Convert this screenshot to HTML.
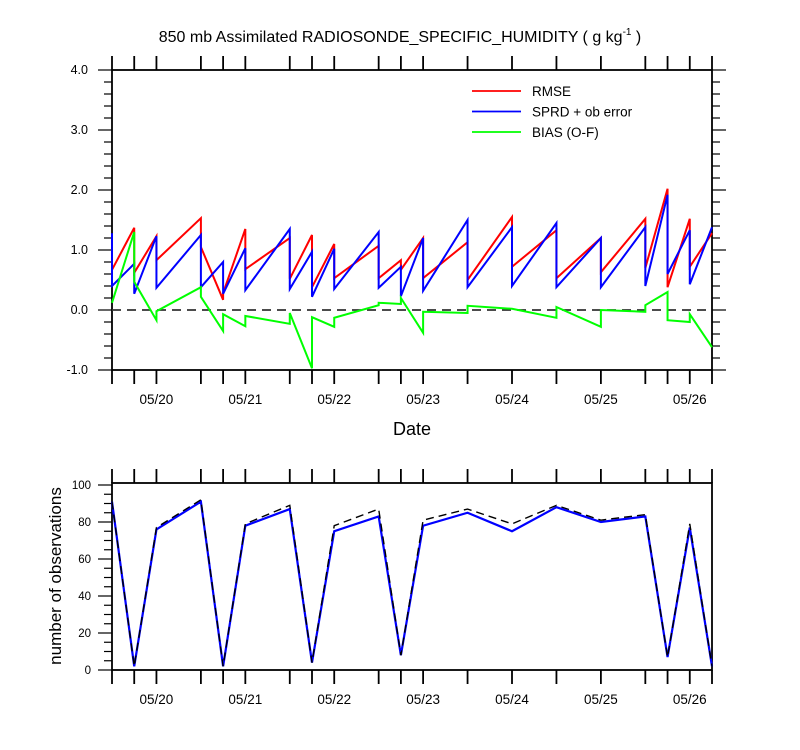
<!DOCTYPE html>
<html><head><meta charset="utf-8"><style>
body{margin:0;background:#fff;}
svg{display:block;font-family:"Liberation Sans",sans-serif;}
</style></head><body>
<svg id="c" width="800" height="750" viewBox="0 0 800 750" xmlns="http://www.w3.org/2000/svg"></svg>
<script>
// ---- data ----
const hours = [0,6,12,24,30,36,48,54,60,72,78,84,96,108,120,132,144,150,156,162];
const dateLabels = ["05/20","05/21","05/22","05/23","05/24","05/25","05/26"];
const dateHours = [12,36,60,84,108,132,156];
const rmseIn  = [0.67,1.37,1.23,1.53,0.17,1.35,1.2,1.25,1.1,1.07,0.83,1.2,1.13,1.55,1.33,1.2,1.52,2.02,1.52,1.28];
const rmseOut = [0.67,0.62,0.83,1.05,0.28,0.68,0.52,0.38,0.53,0.53,0.67,0.53,0.5,0.72,0.53,0.63,0.7,0.38,0.72,1.28];
const sprdIn  = [1.28,0.77,1.23,1.25,0.8,1.03,1.35,0.97,1.02,1.3,0.72,1.2,1.5,1.38,1.45,1.2,1.38,1.92,1.33,1.38];
const sprdOut = [0.4,0.27,0.37,0.38,0.27,0.33,0.35,0.22,0.35,0.37,0.23,0.32,0.38,0.4,0.38,0.38,0.4,0.6,0.43,1.38];
const biasIn  = [0.12,1.3,-0.17,0.38,-0.35,-0.27,-0.23,-0.97,-0.28,0.08,0.1,-0.38,-0.05,0.02,-0.13,-0.28,-0.03,0.3,-0.2,-0.62];
const biasOut = [0.12,0.47,-0.02,0.22,-0.07,-0.1,-0.05,-0.12,-0.13,0.12,0.2,-0.03,0.07,0.02,0.05,0.0,0.08,-0.17,-0.07,-0.62];
const obsHours = [0,6,12,24,30,36,48,54,60,72,78,84,96,108,120,132,144,150,156,162];
const obsUsed  = [91,2,76,91,2,78,87,4,75,83,8,78,85,75,88,80,83,7,77,2];
const obsTotal = [91,2,77,92,2,79,89,4,78,87,8,81,87,79,89,81,84,7,79,2];
const yTicksTop = [4.0,3.0,2.0,1.0,0.0,-1.0];
const yTicksBot = [0,20,40,60,80,100];

const svg = document.getElementById('c');
const NS = "http://www.w3.org/2000/svg";
function mk(tag, attrs, parent){const e=document.createElementNS(NS,tag);for(const k in attrs)e.setAttribute(k,attrs[k]);(parent||svg).appendChild(e);return e;}

const X0=112, X1=712, HMAX=162;
const xs = h => X0 + (X1-X0)*h/HMAX;
const yTop = v => 310 - 60*v;
const yBot = v => 670 - 1.85*v;

let t=mk('text',{x:400,y:42,'text-anchor':'middle','font-size':16});

t.innerHTML='850 mb Assimilated RADIOSONDE_SPECIFIC_HUMIDITY ( g kg<tspan dy="-7" font-size="10">-1</tspan><tspan dy="7"> )</tspan>';

function axesFrame(top,bot,name){
  let r=mk('rect',{x:X0,y:top,width:X1-X0,height:bot-top,fill:'none',stroke:'#000','stroke-width':1.8});
  
  hours.forEach(h=>{
    const x=xs(h);
    mk('line',{x1:x,x2:x,y1:top,y2:top-14,stroke:'#000','stroke-width':1.8});
    mk('line',{x1:x,x2:x,y1:bot,y2:bot+14,stroke:'#000','stroke-width':1.8});
  });
  dateLabels.forEach((d,i)=>{
    const tx=mk('text',{x:xs(dateHours[i]),y:bot+34,'text-anchor':'middle','font-size':13.5});
    
    tx.textContent=d;
  });
}

axesFrame(70,370,'top-plot');
for(let v=-1;v<=4.001;v+=0.2){
  const y=yTop(v), major=Math.abs(v-Math.round(v))<0.01;
  const L=major?14:8;
  mk('line',{x1:X0,x2:X0-L,y1:y,y2:y,stroke:'#000','stroke-width':1.2});
  mk('line',{x1:X1,x2:X1+L,y1:y,y2:y,stroke:'#000','stroke-width':1.2});
}
yTicksTop.forEach(v=>{
  const tx=mk('text',{x:88,y:yTop(v)+4,'text-anchor':'end','font-size':12.5});
  
  tx.textContent=v.toFixed(1);
});
let zl=mk('line',{x1:X0,x2:X1,y1:yTop(0),y2:yTop(0),stroke:'#333','stroke-width':1.8,'stroke-dasharray':'9,6'});


function saw(inA,outA,color,name){
  let d='';
  hours.forEach((h,i)=>{
    const x=xs(h);
    d+=(i===0?'M':'L')+x+','+yTop(inA[i]);
    d+='L'+x+','+yTop(outA[i]);
  });
  const p=mk('path',{d:d,fill:'none',stroke:color,'stroke-width':2});
  
}
saw(rmseIn,rmseOut,'#ff0000','rmse-line');
saw(sprdIn,sprdOut,'#0000ff','sprd-line');
saw(biasIn,biasOut,'#00ff00','bias-line');

const leg=[['RMSE','#ff0000'],['SPRD + ob error','#0000ff'],['BIAS (O-F)','#00ff00']];
leg.forEach((l,i)=>{
  const y=91+i*20.5;
  const g=mk('g',{});
  
  mk('line',{x1:472,x2:521,y1:y,y2:y,stroke:l[1],'stroke-width':1.8},g);
  const tx=mk('text',{x:532,y:y+5,'font-size':13.5},g);tx.textContent=l[0];
});
let xt=mk('text',{x:412,y:435,'text-anchor':'middle','font-size':18});
xt.textContent='Date';

axesFrame(483,670,'bottom-plot');
for(let v=0;v<=100;v+=5){
  const y=yBot(v), major=v%20===0, L=major?14:8;
  mk('line',{x1:X0,x2:X0-L,y1:y,y2:y,stroke:'#000','stroke-width':1.2});
}
yTicksBot.forEach(v=>{
  const tx=mk('text',{x:91,y:yBot(v)+4,'text-anchor':'end','font-size':11.5});
  
  tx.textContent=v;
});
let yt=mk('text',{x:0,y:0,'text-anchor':'middle','font-size':17,transform:'translate(61,576) rotate(-90)'});
yt.textContent='number of observations';

function poly(arr,attrs,name){
  const pts=obsHours.map((h,i)=>xs(h)+','+yBot(arr[i])).join(' ');
  const p=mk('polyline',Object.assign({points:pts,fill:'none'},attrs));
  
}
poly(obsUsed,{stroke:'#0000ff','stroke-width':2.2},'obs-used-line');
poly(obsTotal,{stroke:'#000','stroke-width':1.4,'stroke-dasharray':'8,5'},'obs-total-line');
</script>
</body></html>
